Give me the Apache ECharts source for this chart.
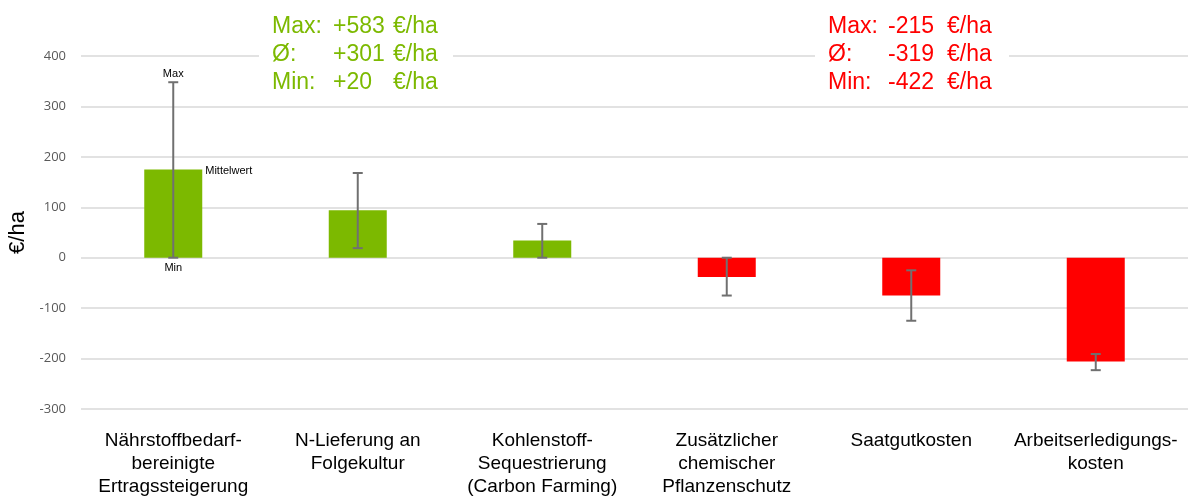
<!DOCTYPE html>
<html>
<head>
<meta charset="utf-8">
<script src="https://cdn.jsdelivr.net/npm/echarts@6/dist/echarts.min.js"></script>
<style>
  html, body { margin: 0; padding: 0; background: #fff; }
  #chart { width: 1188px; height: 496px; }
</style>
</head>
<body>
<div id="chart"></div>
<script>
const categories = [
  "Nährstoffbedarf-\nbereinigte\nErtragssteigerung",
  "N-Lieferung an\nFolgekultur",
  "Kohlenstoff-\nSequestrierung\n(Carbon Farming)",
  "Zusätzlicher\nchemischer\nPflanzenschutz",
  "Saatgutkosten",
  "Arbeitserledigungs-\nkosten"
];
const meanValues = [175, 94, 34, -38, -75, -206];
const minValues = [0, 19, 0, -75, -125, -223];
const maxValues = [348, 168, 67, 0, -25, -191];

// legend-like annotation on first bar
const annotIndex = 0;
const annotLabels = { mean: "Mittelwert", max: "Max", min: "Min" };

// summary boxes
const rowLabels = ["Max:", "Ø:", "Min:"];
const gainValues = ["+583", "+301", "+20"];
const costValues = ["-215", "-319", "-422"];
const unitLabel = "€/ha";

const GREEN = "#7cb900";
const RED = "#ff0000";

let myChart = echarts.init(document.getElementById("chart"));

function summaryBox(x0, color, values, cols) {
  const font = "23px 'Liberation Sans', Arial, sans-serif";
  const mk = (x, lines) => ({
    type: "text",
    z: 101,
    x: x,
    y: 13,
    style: {
      text: lines.join("\n"),
      fill: color,
      font: font,
      lineHeight: 28,
      verticalAlign: "top"
    }
  });
  return [
    { type: "rect", z: 100, shape: { x: x0, y: 8, width: 194, height: 88 }, style: { fill: "#fff" } },
    mk(cols[0], rowLabels),
    mk(cols[1], values),
    mk(cols[2], rowLabels.map(() => unitLabel))
  ];
}

let option = {
  animation: false,
  grid: { left: 81, right: 0, top: 56, bottom: 87, outerBoundsMode: "none", containLabel: false },
  xAxis: {
    type: "category",
    data: categories,
    axisLine: { show: false },
    axisTick: { show: false },
    axisLabel: {
      interval: 0,
      margin: 20,
      color: "#000",
      fontSize: 19,
      lineHeight: 23,
      fontFamily: "'Liberation Sans', Arial, sans-serif"
    }
  },
  yAxis: {
    type: "value",
    min: -300,
    max: 400,
    interval: 100,
    name: unitLabel,
    nameLocation: "middle",
    nameGap: 41,
    nameTextStyle: { color: "#000", fontSize: 22, fontFamily: "'Liberation Sans', Arial, sans-serif" },
    axisLine: { show: false },
    axisTick: { show: false },
    axisLabel: { color: "#595959", fontSize: 13, margin: 15, fontFamily: "'Open Sans', sans-serif" },
    splitLine: { lineStyle: { color: "#d9d9d9", width: 1.5 } }
  },
  series: [
    {
      name: "Mittelwert",
      type: "bar",
      barWidth: 58,
      data: meanValues.map((v, i) => {
        const item = { value: v, itemStyle: { color: v >= 0 ? GREEN : RED } };
        if (i === annotIndex) {
          item.label = {
            show: true,
            position: [61, -4],
            formatter: annotLabels.mean,
            color: "#000",
            fontSize: 11,
            fontFamily: "'Liberation Sans', Arial, sans-serif"
          };
        }
        return item;
      })
    },
    {
      name: "Spanne",
      type: "custom",
      z: 5,
      data: categories.map((c, i) => [i, minValues[i], maxValues[i]]),
      renderItem: function (params, api) {
        const lo = api.coord([api.value(0), api.value(1)]);
        const hi = api.coord([api.value(0), api.value(2)]);
        const cap = 5;
        const style = { stroke: "#707070", lineWidth: 2 };
        const children = [
          { type: "line", shape: { x1: hi[0], y1: hi[1], x2: lo[0], y2: lo[1] }, style: style },
          { type: "line", shape: { x1: hi[0] - cap, y1: hi[1], x2: hi[0] + cap, y2: hi[1] }, style: style },
          { type: "line", shape: { x1: lo[0] - cap, y1: lo[1], x2: lo[0] + cap, y2: lo[1] }, style: style }
        ];
        if (params.dataIndex === annotIndex) {
          const tf = "11px 'Liberation Sans', Arial, sans-serif";
          children.push({ type: "text", x: hi[0], y: hi[1] - 8,
            style: { text: annotLabels.max, fill: "#000", font: tf, align: "center", verticalAlign: "middle" } });
          children.push({ type: "text", x: lo[0], y: lo[1] + 10,
            style: { text: annotLabels.min, fill: "#000", font: tf, align: "center", verticalAlign: "middle" } });
        }
        return { type: "group", children: children };
      }
    }
  ],
  graphic: [].concat(
    summaryBox(259, GREEN, gainValues, [272, 333, 393]),
    summaryBox(815, RED, costValues, [828, 888, 947])
  )
};
myChart.setOption(option);
window.addEventListener("resize", () => myChart.resize(), false);
</script>
</body>
</html>
